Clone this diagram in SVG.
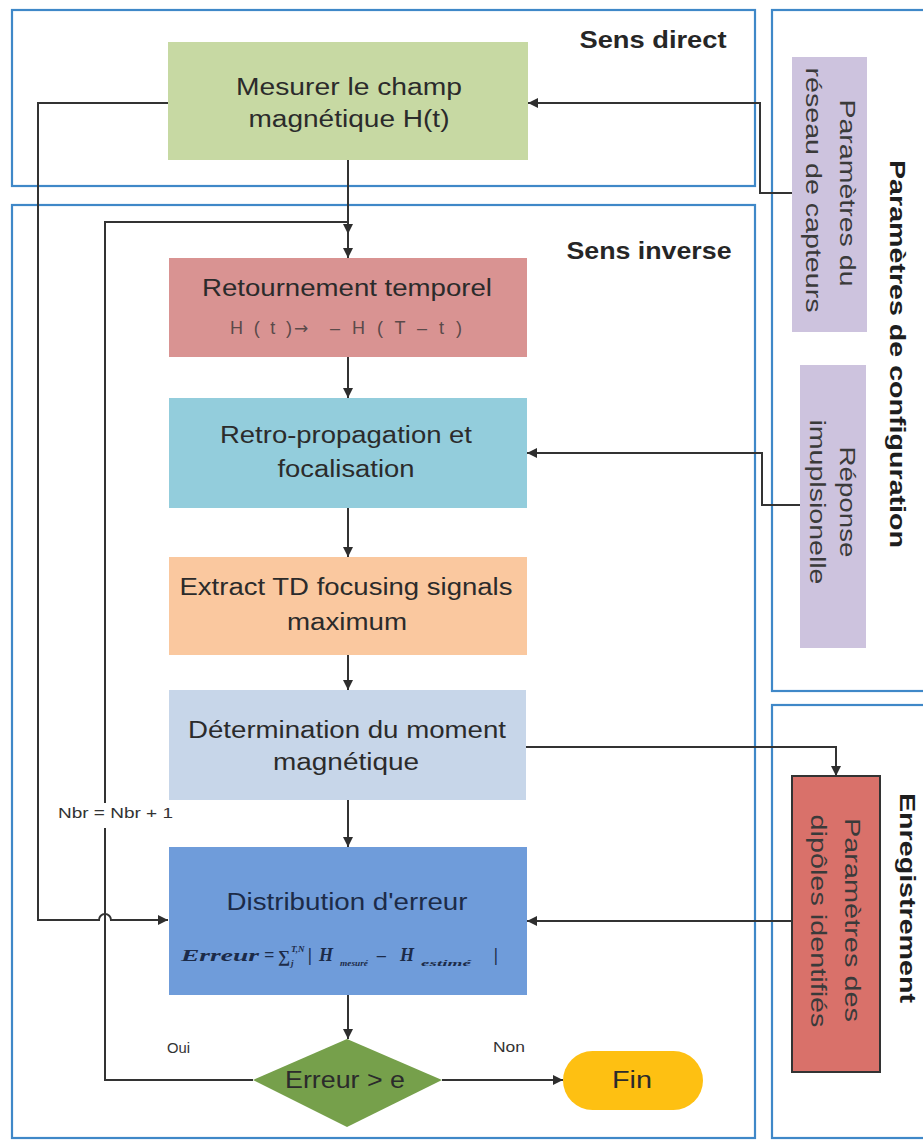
<svg xmlns="http://www.w3.org/2000/svg" width="923" height="1142" viewBox="0 0 923 1142">
  <defs>
    <marker id="arrow" markerUnits="userSpaceOnUse" markerWidth="10" markerHeight="10" refX="10" refY="5" orient="auto">
      <path d="M0,0 L10,5 L0,10 z" fill="#2e2e2e"/>
    </marker>
    <style>
      .panel { fill: none; stroke: #3f88c8; stroke-width: 2.2; }
      .conn { fill: none; stroke: #333; stroke-width: 2; }
      .arr { marker-end: url(#arrow); }
      .t { font-family: "Liberation Sans", Arial, sans-serif; font-size: 23px; fill: #2b2b2b; text-anchor: middle; }
      .title { font-family: "Liberation Sans", Arial, sans-serif; font-size: 23px; font-weight: bold; fill: #262626; text-anchor: middle; }
      .vt { font-family: "Liberation Sans", Arial, sans-serif; font-size: 22px; fill: #3a3a3a; text-anchor: middle; dominant-baseline: central; }
      .vtitle { font-family: "Liberation Sans", Arial, sans-serif; font-size: 22px; font-weight: bold; fill: #1e1e1e; text-anchor: middle; dominant-baseline: central; }
      .small { font-family: "Liberation Sans", Arial, sans-serif; font-size: 15px; fill: #333; }
      .math { font-family: "Liberation Serif", "Times New Roman", serif; font-weight: bold; font-style: italic; fill: #1c2b48; }
      .formula { font-family: "Liberation Sans", Arial, sans-serif; font-size: 18px; fill: #5a4a4a; }
    </style>
  </defs>

  <rect width="923" height="1142" fill="#ffffff"/>

  <!-- section frames -->
  <g id="panels">
    <rect class="panel" x="12" y="10" width="743" height="176"/>
    <rect class="panel" x="12" y="205" width="743" height="933"/>
    <rect class="panel" x="772" y="10" width="160" height="681"/>
    <rect class="panel" x="772" y="705" width="160" height="433"/>
    <text class="title" x="653" y="48" textLength="147" lengthAdjust="spacingAndGlyphs">Sens direct</text>
    <text class="title" x="649" y="259" textLength="165" lengthAdjust="spacingAndGlyphs">Sens inverse</text>
    <text class="vtitle" transform="translate(897,354) rotate(90)" textLength="388" lengthAdjust="spacingAndGlyphs">Paramètres de configuration</text>
    <text class="vtitle" transform="translate(907,898) rotate(90)" textLength="210" lengthAdjust="spacingAndGlyphs">Enregistrement</text>
  </g>

  <!-- connectors -->
  <g id="connectors">
    <path class="conn arr" d="M348 160 V234"/>
    <path class="conn arr" d="M348 234 V258"/>
    <path class="conn arr" d="M348 357 V398"/>
    <path class="conn arr" d="M348 508 V557"/>
    <path class="conn arr" d="M348 655 V690"/>
    <path class="conn arr" d="M348 800 V847"/>
    <path class="conn arr" d="M348 995 V1039"/>
    <path class="conn arr" d="M442 1080 H563"/>
    <!-- iteration loop back to the time reversal step -->
    <path class="conn" d="M253 1080 H105 V828 M105 803 V222 H348"/>
    <!-- measured field fed to the error computation -->
    <path class="conn arr" d="M168 103 H38 V920 H99 A6 6 0 0 1 111 920 H168"/>
    <!-- configuration inputs -->
    <path class="conn arr" d="M792 193 H760 V103 H528"/>
    <path class="conn arr" d="M800 505 H762 V453 H527"/>
    <!-- recording of the identified dipoles -->
    <path class="conn arr" d="M525 747 H836 V776"/>
    <path class="conn arr" d="M792 921 H527"/>
    <text class="small" x="58" y="818" textLength="115" lengthAdjust="spacingAndGlyphs">Nbr = Nbr + 1</text>
    <text class="small" x="167" y="1053" textLength="23" lengthAdjust="spacingAndGlyphs">Oui</text>
    <text class="small" x="493" y="1052" textLength="32" lengthAdjust="spacingAndGlyphs">Non</text>
  </g>

  <g id="mesurer">
    <rect x="168" y="42" width="360" height="118" fill="#c7d9a3"/>
    <text class="t" x="349" y="95" textLength="226" lengthAdjust="spacingAndGlyphs">Mesurer le champ</text>
    <text class="t" x="349" y="127" textLength="201" lengthAdjust="spacingAndGlyphs">magnétique H(t)</text>
  </g>

  <g id="retournement">
    <rect x="169" y="258" width="358" height="99" fill="#d99392"/>
    <text class="t" x="347" y="296" textLength="290" lengthAdjust="spacingAndGlyphs">Retournement temporel</text>
    <text class="formula" x="230" y="334" textLength="62" lengthAdjust="spacing">H ( t )</text>
    <text class="formula" x="294" y="334" style="font-family:'DejaVu Sans',sans-serif;font-size:17px">→</text>
    <text class="formula" x="330" y="334" textLength="132" lengthAdjust="spacing">– H ( T – t )</text>
  </g>

  <g id="retro">
    <rect x="169" y="398" width="358" height="110" fill="#93cddc"/>
    <text class="t" x="346" y="443" textLength="252" lengthAdjust="spacingAndGlyphs">Retro-propagation et</text>
    <text class="t" x="346" y="477" textLength="137" lengthAdjust="spacingAndGlyphs">focalisation</text>
  </g>

  <g id="extract">
    <rect x="169" y="557" width="358" height="98" fill="#fac89f"/>
    <text class="t" x="346" y="595" textLength="333" lengthAdjust="spacingAndGlyphs">Extract TD focusing signals</text>
    <text class="t" x="347" y="630" textLength="120" lengthAdjust="spacingAndGlyphs">maximum</text>
  </g>

  <g id="determination">
    <rect x="169" y="690" width="357" height="110" fill="#c7d6e9"/>
    <text class="t" x="347" y="738" textLength="318" lengthAdjust="spacingAndGlyphs">Détermination du moment</text>
    <text class="t" x="346" y="770" textLength="146" lengthAdjust="spacingAndGlyphs">magnétique</text>
  </g>

  <g id="distribution">
    <rect x="169" y="847" width="358" height="148" fill="#6f9cda"/>
    <text class="t" x="347" y="910" style="fill:#1c2b48" textLength="241" lengthAdjust="spacingAndGlyphs">Distribution d'erreur</text>
    <text class="math" style="font-size:17px" x="181" y="961" textLength="78" lengthAdjust="spacingAndGlyphs">Erreur</text>
    <text class="math" style="font-size:18px" x="264" y="961">=</text>
    <text class="math" style="font-size:17px" x="278" y="962">∑</text>
    <text class="math" style="font-size:9px" x="291" y="952">T,N</text>
    <text class="math" style="font-size:9px" x="291" y="966">j</text>
    <text class="math" style="font-size:18px" x="308" y="961">|</text>
    <text class="math" style="font-size:18px" x="319" y="961">H</text>
    <text class="math" style="font-size:8px" x="340" y="966" textLength="28" lengthAdjust="spacingAndGlyphs">mesuré</text>
    <text class="math" style="font-size:18px" x="377" y="961">–</text>
    <text class="math" style="font-size:18px" x="400" y="961">H</text>
    <text class="math" style="font-size:8px" x="421" y="966" textLength="50" lengthAdjust="spacingAndGlyphs">estimé</text>
    <text class="math" style="font-size:18px" x="494" y="961">|</text>
  </g>

  <g id="decision">
    <polygon points="347,1039 442,1080 347,1127 253,1080" fill="#76a04b"/>
    <text class="t" x="345" y="1088" textLength="120" lengthAdjust="spacingAndGlyphs">Erreur &gt; e</text>
  </g>

  <g id="fin">
    <rect x="563" y="1051" width="140" height="59" rx="29.5" ry="29.5" fill="#fec012"/>
    <text class="t" x="632" y="1088" textLength="40" lengthAdjust="spacingAndGlyphs">Fin</text>
  </g>

  <g id="reseau-capteurs">
    <rect x="792" y="57" width="75" height="275" fill="#cdc3de"/>
    <text class="vt" transform="translate(847,193) rotate(90)" textLength="187" lengthAdjust="spacingAndGlyphs">Paramètres du</text>
    <text class="vt" transform="translate(813,190) rotate(90)" textLength="245" lengthAdjust="spacingAndGlyphs">réseau de capteurs</text>
  </g>

  <g id="reponse">
    <rect x="800" y="365" width="66" height="283" fill="#cdc3de"/>
    <text class="vt" transform="translate(847,502) rotate(90)" textLength="111" lengthAdjust="spacingAndGlyphs">Réponse</text>
    <text class="vt" transform="translate(817,502) rotate(90)" textLength="165" lengthAdjust="spacingAndGlyphs">imuplsionelle</text>
  </g>

  <g id="dipoles">
    <rect x="792" y="776" width="88" height="296" fill="#d9716a" stroke="#333" stroke-width="2"/>
    <text class="vt" transform="translate(852,920) rotate(90)" textLength="204" lengthAdjust="spacingAndGlyphs">Paramètres des</text>
    <text class="vt" transform="translate(818,921) rotate(90)" textLength="213" lengthAdjust="spacingAndGlyphs">dipôles identifiés</text>
  </g>
</svg>
